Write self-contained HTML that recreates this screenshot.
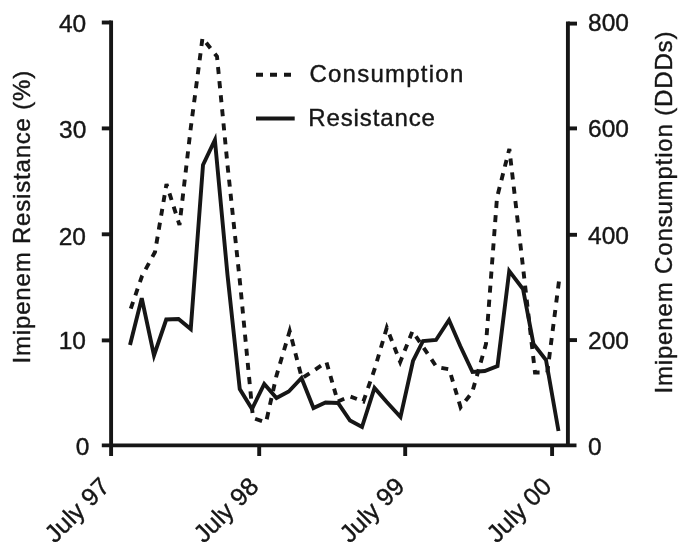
<!DOCTYPE html>
<html><head><meta charset="utf-8"><style>
html,body{margin:0;padding:0;background:#fff;}
svg{display:block;will-change:transform;}
text{font-family:"Liberation Sans",sans-serif;fill:#161616;stroke:#161616;stroke-width:0.4px;}
</style></head><body>
<svg width="685" height="558" viewBox="0 0 685 558">
<rect width="685" height="558" fill="#fff"/>
<g stroke="#161616" stroke-width="3.9" fill="none" stroke-linecap="butt">
<line x1="111.1" y1="20.5" x2="111.1" y2="456"/>
<line x1="101.8" y1="445.4" x2="576.5" y2="445.4"/>
<line x1="567.9" y1="21.5" x2="567.9" y2="445.4"/>
<line x1="101.8" y1="22.5" x2="111.1" y2="22.5"/>
<line x1="101.8" y1="128.4" x2="111.1" y2="128.4"/>
<line x1="101.8" y1="234.3" x2="111.1" y2="234.3"/>
<line x1="101.8" y1="340.4" x2="111.1" y2="340.4"/>
<line x1="567.9" y1="23.6" x2="577" y2="23.6"/>
<line x1="567.9" y1="128.4" x2="577" y2="128.4"/>
<line x1="567.9" y1="234.8" x2="577" y2="234.8"/>
<line x1="567.9" y1="340.1" x2="577" y2="340.1"/>
<line x1="259.2" y1="445.4" x2="259.2" y2="456"/>
<line x1="405.2" y1="445.4" x2="405.2" y2="456"/>
<line x1="552.1" y1="445.4" x2="552.1" y2="456"/>
</g>
<path d="M130.79 308.65 L133.08 301.98 M135.37 295.31 L137.64 288.69 M139.90 282.12 L142.00 276.00 L142.25 275.53 M145.61 269.33 L148.97 263.14 M152.35 256.89 L155.00 252.00 L155.25 250.53 M156.42 243.58 L157.61 236.58 M158.78 229.63 L159.96 222.68 M161.14 215.68 L162.30 208.83 M163.46 201.97 L164.62 195.12 M165.79 188.17 L166.50 184.00 L167.34 186.64 M169.47 193.36 L171.57 199.99 M173.67 206.61 L175.82 213.38 M178.02 220.34 L179.50 225.00 L179.78 222.56 M180.63 215.26 L181.48 207.96 M182.32 200.65 L183.16 193.45 M183.97 186.50 L184.78 179.45 M185.60 172.44 L186.41 165.44 M187.23 158.39 L188.04 151.38 M188.86 144.33 L189.67 137.33 M190.49 130.28 L190.75 128.00 L191.37 123.28 M192.29 116.24 L193.20 109.25 M194.12 102.21 L195.03 95.22 M195.95 88.18 L196.86 81.19 M197.77 74.20 L198.69 67.16 M199.61 60.17 L200.53 53.13 M201.44 46.09 L202.36 39.05 M206.17 42.68 L210.49 48.19 M214.83 53.74 L217.00 56.50 L217.34 60.02 M218.02 67.04 L218.70 74.06 M219.38 81.12 L220.07 88.19 M220.75 95.26 L221.43 102.28 M222.11 109.29 L222.79 116.31 M223.47 123.33 L224.15 130.34 M224.83 137.41 L225.51 144.43 M226.20 151.50 L226.88 158.51 M227.55 165.53 L227.60 166.00 L228.30 172.59 M229.05 179.60 L229.80 186.66 M230.55 193.77 L231.30 200.78 M232.05 207.84 L232.79 214.85 M233.55 221.96 L234.30 229.02 M235.05 236.08 L235.80 243.09 M236.55 250.15 L237.29 257.16 M238.04 264.22 L238.79 271.28 M239.54 278.30 L240.25 285.00 L240.28 285.36 M240.96 292.37 L241.63 299.44 M242.31 306.46 L242.98 313.53 M243.66 320.59 L244.34 327.66 M245.01 334.68 L245.69 341.70 M246.36 348.72 L247.03 355.73 M247.71 362.85 L248.39 369.92 M249.06 376.94 L249.75 384.10 M250.45 391.37 L251.14 398.59 M251.83 405.80 L252.52 413.02 M255.12 418.74 L262.07 421.14 M266.73 419.24 L268.34 412.02 M269.92 404.94 L271.48 397.96 M273.01 391.08 L274.54 384.25 M276.06 377.42 L276.40 375.90 L277.96 370.63 M279.96 363.87 L281.98 357.06 M284.01 350.21 L286.04 343.35 M288.07 336.50 L289.70 331.00 L290.05 332.37 M291.84 339.30 L293.62 346.22 M295.40 353.14 L297.16 359.97 M298.91 366.80 L300.67 373.63 M303.67 377.23 L309.51 373.37 M315.25 369.55 L321.01 365.65 M326.55 362.52 L328.49 369.24 M330.45 376.02 L332.30 382.45 M334.09 388.65 L335.92 394.99 M337.87 401.47 L344.24 398.81 M350.57 396.61 L356.89 398.97 M363.17 401.31 L363.40 401.40 L365.60 395.07 M367.98 388.22 L370.33 381.47 M372.65 374.81 L374.50 369.50 L374.92 368.09 M376.93 361.28 L378.92 354.51 M380.90 347.80 L382.90 341.04 M384.88 334.32 L386.80 327.80 L386.89 328.03 M389.44 334.55 L391.96 340.97 M394.44 347.30 L396.94 353.68 M399.49 360.20 L400.20 362.00 L402.07 357.29 M404.64 350.83 L407.17 344.47 M409.66 338.19 L412.17 331.87 M415.92 336.44 L419.82 342.13 M423.69 347.79 L427.60 353.60 M431.50 359.41 L435.40 365.22 M441.32 367.86 L448.21 369.12 M450.93 375.04 L452.91 381.65 M454.89 388.21 L456.87 394.81 M458.88 401.47 L460.60 407.20 L461.22 406.40 M465.49 400.91 L469.73 395.47 M472.98 389.58 L474.89 382.89 M476.81 376.16 L478.75 369.38 M480.68 362.60 L482.62 355.83 M484.57 349.00 L486.00 344.00 L486.14 342.15 M486.67 335.07 L487.20 328.04 M487.73 321.01 L488.26 313.93 M488.79 306.80 L489.33 299.72 M489.86 292.64 L490.39 285.61 M490.92 278.53 L491.45 271.50 M491.98 264.42 L492.51 257.39 M493.04 250.31 L493.57 243.28 M494.10 236.20 L494.63 229.17 M495.16 222.09 L495.69 215.06 M496.22 207.98 L496.75 200.95 M497.92 193.98 L499.66 187.09 M501.42 180.16 L503.15 173.33 M504.85 166.64 L506.56 159.91 M508.28 153.12 L509.35 148.90 L509.66 151.58 M510.46 158.53 L511.27 165.49 M512.07 172.39 L512.88 179.44 M513.71 186.65 L514.54 193.80 M515.37 201.00 L516.20 208.15 M517.03 215.35 L517.85 222.41 M518.65 229.36 L519.46 236.36 M520.28 243.42 L521.09 250.42 M521.90 257.47 L522.70 264.53 M523.50 271.53 L524.30 278.59 M525.10 285.64 L525.90 292.65 M526.71 299.70 L527.50 306.71 M528.31 313.76 L529.11 320.81 M529.91 327.82 L530.71 334.87 M531.52 341.93 L532.32 348.93 M533.12 355.99 L533.92 362.99 M534.72 370.05 L535.00 372.50 L539.58 372.50 M546.63 372.50 L547.30 372.50 L548.12 366.12 M549.01 359.13 L549.91 352.09 M550.82 344.99 L551.72 337.95 M552.62 330.91 L553.51 323.92 M554.41 316.92 L555.31 309.88 M556.24 302.59 L557.15 295.50 M558.04 288.50 L558.93 281.51" fill="none" stroke="#161616" stroke-width="3.9" stroke-linejoin="miter" stroke-linecap="butt"/>
<polyline points="130,345 141.75,298.2 154,355.5 166.25,319.5 178.5,319 190.75,329 203,165 214.9,140 227.5,275 239.75,389 252,409 264.25,384 276.5,398 288.75,391.5 301.5,378 313.5,408 325.5,402.5 338,403 350,420.5 362,427 374.5,388 386.75,402 400.5,417 413,361 423,341 436,340 449,320 460.25,346 472.5,372 484.75,371 497.5,366 509.25,271 523,289 533.5,344 546,360 558.5,431" fill="none" stroke="#161616" stroke-width="3.9" stroke-linejoin="miter"/>
<line x1="256" y1="74.8" x2="292" y2="74.8" stroke="#161616" stroke-width="3.9" stroke-dasharray="7 7"/>
<line x1="256" y1="118.5" x2="294.7" y2="118.5" stroke="#161616" stroke-width="3.9"/>
<g font-size="24.5">
<text x="86.2" y="32.2" text-anchor="end">40</text>
<text x="86.3" y="137.5" text-anchor="end">30</text>
<text x="85.9" y="244.5" text-anchor="end">20</text>
<text x="85.9" y="349.3" text-anchor="end">10</text>
<text x="89.4" y="454.5" text-anchor="end">0</text>
<text x="588" y="30.8">800</text>
<text x="588" y="136.6">600</text>
<text x="588" y="243.5">400</text>
<text x="588" y="349">200</text>
<text x="588" y="454.5">0</text>
</g>
<g font-size="24">
<text x="309.4" y="82" textLength="153.9" lengthAdjust="spacing">Consumption</text>
<text x="308.2" y="126" textLength="126.7" lengthAdjust="spacing">Resistance</text>
<text transform="translate(30.2,363.4) rotate(-90)" textLength="292.6" lengthAdjust="spacing">Imipenem Resistance (%)</text>
<text transform="translate(671.9,393.6) rotate(-90)" textLength="362" lengthAdjust="spacing">Imipenem Consumption (DDDs)</text>
</g>
<g font-size="25">
<text transform="translate(111,488) rotate(-45)" text-anchor="end">July 97</text>
<text transform="translate(260,488) rotate(-45)" text-anchor="end">July 98</text>
<text transform="translate(406,488) rotate(-45)" text-anchor="end">July 99</text>
<text transform="translate(553,488) rotate(-45)" text-anchor="end">July 00</text>
</g>
</svg>
</body></html>
